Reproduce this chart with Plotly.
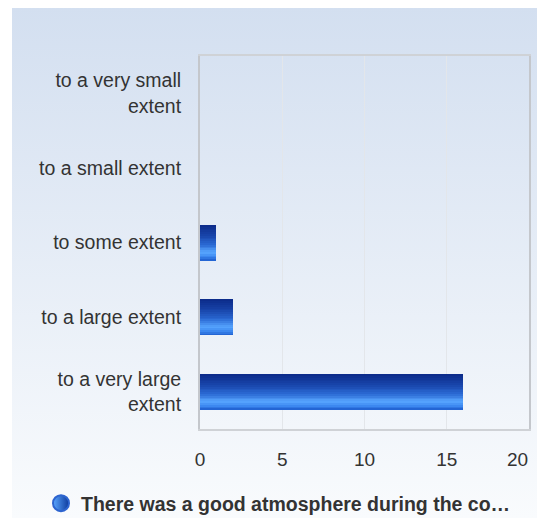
import base64
import plotly.graph_objects as go

# ---- data ----
categories = ["to a very large<br>extent", "to a large extent", "to some extent",
              "to a small extent", "to a very small<br>extent"]
values = [16, 2, 1, 0, 0]
x_ticks = [0, 5, 10, 15, 20]
x_tick_labels = ["0", "5", "10", "15", "20"]
series_name = "There was a good atmosphere during the co…"

# ---- style ----
OFF = 8  # default page body margin
W, H = 546 - 2 * OFF, 518 - OFF
L, T = 200 - OFF, 56 - OFF
R = W - (529 - OFF)
B = H - (429 - OFF)
FONT = "Arial, Liberation Sans, sans-serif"
TXT = "#333333"
BAR_W = 0.48
N_STRIPS = 20
# gradient stops: (fraction from top of bar, colour)
stops = [(0.0, (11, 42, 136)), (0.3, (24, 69, 171)), (0.55, (43, 106, 212)),
         (0.76, (88, 166, 255)), (0.88, (59, 135, 239)), (1.0, (29, 92, 205))]


def grad(t):
    for (p0, c0), (p1, c1) in zip(stops[:-1], stops[1:]):
        if p0 <= t <= p1:
            f = (t - p0) / (p1 - p0)
            c = [round(a + (b - a) * f) for a, b in zip(c0, c1)]
            return "rgb(%d,%d,%d)" % tuple(c)
    return "rgb(%d,%d,%d)" % stops[-1][1]


fig = go.Figure()
step = BAR_W / N_STRIPS
for i in range(N_STRIPS):
    t = 1 - (i + 0.5) / N_STRIPS
    fig.add_trace(go.Bar(
        orientation="h", x=values, y=categories,
        width=step * 1.02, offset=-BAR_W / 2 + i * step,
        marker=dict(color=grad(t), line=dict(width=0)),
        showlegend=False, hoverinfo="skip"))

fig.add_trace(go.Scatter(
    x=[None], y=[None], mode="markers", name=series_name,
    marker=dict(symbol="circle", size=16, color="#5aa6ff",
                gradient=dict(type="horizontal", color="#0d3a9c"),
                line=dict(width=2, color="#2d64cf"))))

# background gradient as an SVG image
svg = ('<svg xmlns="http://www.w3.org/2000/svg" width="100" height="100" '
       'viewBox="0 0 100 100" preserveAspectRatio="none"><defs>'
       '<linearGradient id="g" x1="0" y1="0" x2="0" y2="1">'
       '<stop offset="0" stop-color="#d3dff0"/>'
       '<stop offset="1" stop-color="#f9fbfd"/></linearGradient></defs>'
       '<rect width="100" height="100" fill="url(#g)"/></svg>')
src = "data:image/svg+xml;base64," + base64.b64encode(svg.encode()).decode()
pw, ph = W - L - R, H - T - B
bg_x0, bg_x1, bg_y0, bg_y1 = 12 - OFF, 537 - OFF, 7 - OFF, 518 - OFF
fig.add_layout_image(dict(
    source=src, xref="paper", yref="paper",
    x=(bg_x0 - L) / pw, y=1 + (T - bg_y0) / ph,
    sizex=(bg_x1 - bg_x0) / pw, sizey=(bg_y1 - bg_y0) / ph,
    sizing="stretch", xanchor="left", yanchor="top", layer="below"))

# last tick label is justified inside the chart edge (right-aligned at its tick)
tick_text = x_tick_labels[:-1] + [""]
fig.add_annotation(x=x_ticks[-1], xref="x", y=-(459.5 - 429) / ph, yref="paper",
                   text=x_tick_labels[-1], showarrow=False, xanchor="right",
                   yanchor="middle", xshift=0, borderpad=0,
                   font=dict(family=FONT, size=19, color=TXT))

fig.update_layout(
    width=W, height=H,
    margin=dict(l=L, r=R, t=T, b=B, pad=0, autoexpand=False),
    paper_bgcolor="white", plot_bgcolor="rgba(0,0,0,0)",
    barmode="overlay", bargap=0,
    font=dict(family=FONT, size=19, color=TXT),
    showlegend=True,
    legend=dict(orientation="h", x=(41 - OFF - L) / pw, xanchor="left",
                y=-(503.5 - 429) / ph, yanchor="middle",
                font=dict(family=FONT, size=19.5, color=TXT, weight="bold"),
                bgcolor="rgba(0,0,0,0)"),
    xaxis=dict(range=[0, 20], tickvals=x_ticks, ticktext=tick_text,
               showgrid=True, gridcolor="#e3e6ea", automargin=False,
               gridwidth=1, zeroline=False, showline=True, linecolor="#cfd2d6",
               linewidth=1.5, mirror=True, ticks="outside", ticklen=12,
               tickcolor="rgba(0,0,0,0)", tickfont=dict(size=19, color=TXT),
               fixedrange=True),
    yaxis=dict(type="category", categoryorder="array", categoryarray=categories,
               showgrid=False, zeroline=False, showline=True, linecolor="#c4c7cc",
               linewidth=2, mirror=True, ticks="outside", ticklen=13,
               automargin=False,
               tickcolor="rgba(0,0,0,0)", tickfont=dict(size=19.5, color=TXT),
               fixedrange=True),
)

fig.write_html("out.html")
